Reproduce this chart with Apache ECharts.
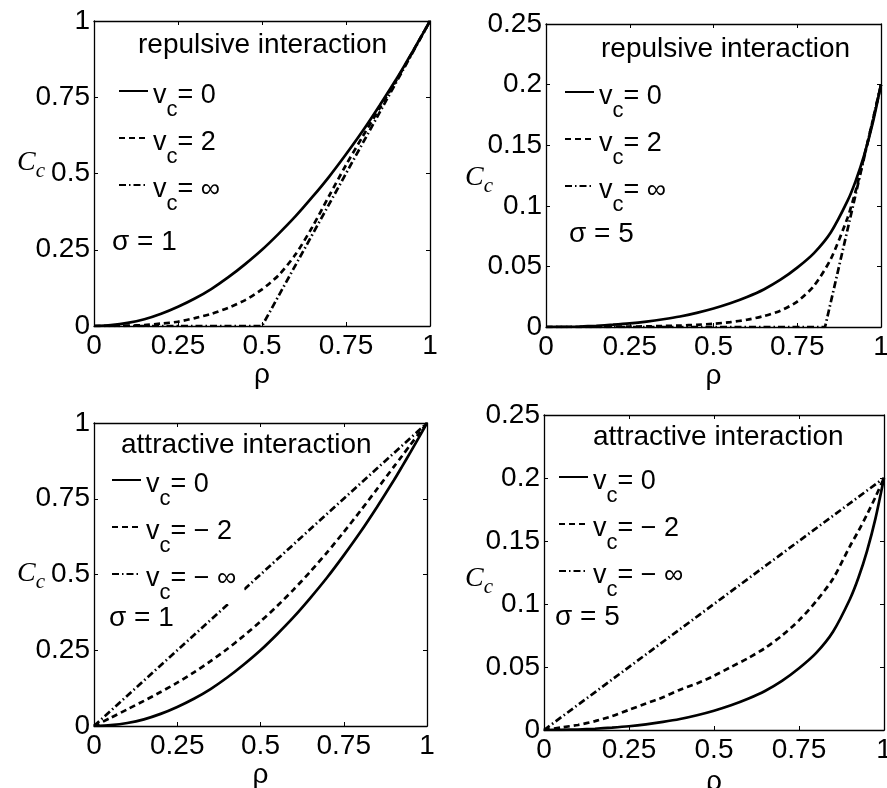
<!DOCTYPE html>
<html>
<head>
<meta charset="utf-8">
<script src="https://cdn.jsdelivr.net/npm/echarts@6/dist/echarts.min.js"></script>
<style>
  html, body { margin: 0; padding: 0; background: #fff; }
  #chart { width: 887px; height: 788px; }
</style>
</head>
<body>
<div id="chart"></div>
<script>
// rho sampling used for the smooth curves (finer near rho = 1 where the curves steepen)
const rho = [0, 0.05, 0.1, 0.15, 0.2, 0.25, 0.3, 0.35, 0.4, 0.45, 0.5, 0.55, 0.6, 0.65, 0.7, 0.75, 0.8, 0.85, 0.9, 0.925, 0.95, 0.975, 1];

// sigma = 1  (v_c = 0 is the same curve in both left panels)
const s1Zero = [0, 0.003, 0.01, 0.022, 0.04, 0.063, 0.09, 0.122, 0.16, 0.203, 0.25, 0.303, 0.36, 0.423, 0.49, 0.563, 0.64, 0.723, 0.81, 0.856, 0.903, 0.951, 1];
const s1Rep2 = [0, 0, 0.001, 0.003, 0.008, 0.014, 0.026, 0.04, 0.06, 0.085, 0.12, 0.167, 0.235, 0.325, 0.427, 0.528, 0.622, 0.714, 0.806, 0.853, 0.902, 0.951, 1];
const s1Att2 = [0, 0.027, 0.055, 0.083, 0.112, 0.143, 0.177, 0.214, 0.254, 0.298, 0.345, 0.396, 0.451, 0.51, 0.573, 0.64, 0.71, 0.782, 0.855, 0.891, 0.928, 0.964, 1];

// sigma = 5
const s5Zero = [0, 0.0001, 0.0004, 0.001, 0.0019, 0.003, 0.0045, 0.0064, 0.0087, 0.0117, 0.0153, 0.0196, 0.0248, 0.031, 0.039, 0.049, 0.061, 0.078, 0.104, 0.121, 0.142, 0.168, 0.2];
const s5Rep2 = [0, 0, 0, 0.0001, 0.0002, 0.0003, 0.0005, 0.0008, 0.0012, 0.0018, 0.0027, 0.004, 0.006, 0.009, 0.0135, 0.021, 0.034, 0.056, 0.09, 0.113, 0.141, 0.17, 0.2];
const s5Att2 = [0, 0.002, 0.004, 0.007, 0.011, 0.016, 0.021, 0.026, 0.032, 0.037, 0.043, 0.05, 0.057, 0.065, 0.075, 0.087, 0.102, 0.12, 0.146, 0.158, 0.171, 0.185, 0.2];

// v_c = +-infinity limits (straight pieces)
const s1RepInfRho = [0, 0.5, 1];
const s1RepInf = [0, 0, 1];
const s5RepInfRho = [0, 0.833, 1];
const s5RepInf = [0, 0, 0.2];
const attInfRho = [0, 1];
const s1AttInf = [0, 1];
const s5AttInf = [0, 0.2];

// axis ranges
const xTickStep = 0.25;
const yMaxS1 = 1, yStepS1 = 0.25;
const yMaxS5 = 0.25, yStepS5 = 0.05;

const FONT = "'Liberation Sans', Arial, sans-serif";
const SERIF = "'Liberation Serif', 'DejaVu Serif', serif";

const pairs = (xs, ys) => xs.map((x, i) => [x, ys[i]]);

// panel layout
const panels = [
  { grid: { left: 94, top: 21, width: 336, height: 305 }, yMax: yMaxS1, yStep: yStepS1, rhoGap: 30, ccGap: 49, ccPad: [0, 0, 20, 0],
    title: "repulsive interaction", titlePos: [138, 31], sigma: "σ = 1", sigmaPos: [112, 228], legendPos: [118, 76] },
  { grid: { left: 546, top: 24, width: 335, height: 303 }, yMax: yMaxS5, yStep: yStepS5, rhoGap: 32, ccGap: 53, ccPad: [6, 0, 0, 0],
    title: "repulsive interaction", titlePos: [601, 35], sigma: "σ = 5", sigmaPos: [569, 220], legendPos: [564, 77] },
  { grid: { left: 94, top: 423, width: 333, height: 303 }, yMax: yMaxS1, yStep: yStepS1, rhoGap: 28, ccGap: 49, ccPad: [0, 0, 0, 0],
    title: "attractive interaction", titlePos: [121, 431], sigma: "σ = 1", sigmaPos: [109, 604], legendPos: [111, 465] },
  { grid: { left: 544, top: 415, width: 340, height: 315 }, yMax: yMaxS5, yStep: yStepS5, rhoGap: 38, ccGap: 51, ccPad: [15, 0, 0, 0],
    title: "attractive interaction", titlePos: [593, 423], sigma: "σ = 5", sigmaPos: [555, 603], legendPos: [558, 462] }
];

// series per panel: [name, legend label, data, dash type]
const curves = [
  [["r1_0", "= 0", pairs(rho, s1Zero), "solid"],
   ["r1_2", "= 2", pairs(rho, s1Rep2), [6, 4]],
   ["r1_inf", "= ∞", pairs(s1RepInfRho, s1RepInf), [7, 3, 1.5, 3]]],
  [["r5_0", "= 0", pairs(rho, s5Zero), "solid"],
   ["r5_2", "= 2", pairs(rho, s5Rep2), [6, 4]],
   ["r5_inf", "= ∞", pairs(s5RepInfRho, s5RepInf), [7, 3, 1.5, 3]]],
  [["a1_0", "= 0", pairs(rho, s1Zero), "solid"],
   ["a1_2", "= − 2", pairs(rho, s1Att2), [6, 4]],
   ["a1_inf", "= − ∞", pairs(attInfRho, s1AttInf), [7, 3, 1.5, 3]]],
  [["a5_0", "= 0", pairs(rho, s5Zero), "solid"],
   ["a5_2", "= − 2", pairs(rho, s5Att2), [6, 4]],
   ["a5_inf", "= − ∞", pairs(attInfRho, s5AttInf), [7, 3, 1.5, 3]]]
];

const labelOf = {};
curves.forEach(list => list.forEach(c => { labelOf[c[0]] = c[1]; }));

const axisLine = { show: true, onZero: false, lineStyle: { color: "#000", width: 1.3 } };
const axisTick = { show: true, inside: true, length: 4, lineStyle: { color: "#000", width: 1 } };
const tickLabel = { color: "#000", fontSize: 28, fontFamily: FONT };

const grids = [], xAxes = [], yAxes = [], series = [], titles = [], legends = [];

panels.forEach((p, i) => {
  grids.push(Object.assign({ outerBoundsMode: "none", containLabel: false }, p.grid));

  xAxes.push({
    type: "value", gridIndex: i, min: 0, max: 1, interval: xTickStep, position: "bottom",
    axisLine, axisTick, splitLine: { show: false },
    axisLabel: Object.assign({ margin: 6 }, tickLabel),
    name: "ρ", nameLocation: "middle", nameGap: p.rhoGap,
    nameTextStyle: { color: "#000", fontSize: 28, fontFamily: FONT }
  });
  xAxes.push({
    type: "value", gridIndex: i, min: 0, max: 1, interval: xTickStep, position: "top",
    axisLine, axisTick, splitLine: { show: false }, axisLabel: { show: false }
  });

  yAxes.push({
    type: "value", gridIndex: i, min: 0, max: p.yMax, interval: p.yStep, position: "left",
    axisLine, axisTick, splitLine: { show: false },
    axisLabel: Object.assign({ margin: 4 }, tickLabel),
    name: "{C|C}{c|c}", nameLocation: "middle", nameRotate: 0, nameGap: p.ccGap, nameMoveOverlap: false,
    nameTextStyle: {
      padding: p.ccPad,
      rich: {
        C: { fontFamily: SERIF, fontStyle: "italic", fontSize: 28, color: "#000", lineHeight: 30, verticalAlign: "top" },
        c: { fontFamily: SERIF, fontStyle: "italic", fontSize: 21, color: "#000", lineHeight: 22, verticalAlign: "top", padding: [12, 0, 0, 0] }
      }
    }
  });
  yAxes.push({
    type: "value", gridIndex: i, min: 0, max: p.yMax, interval: p.yStep, position: "right",
    axisLine, axisTick, splitLine: { show: false }, axisLabel: { show: false }
  });

  curves[i].forEach(c => {
    series.push({
      name: c[0], type: "line", xAxisIndex: 2 * i, yAxisIndex: 2 * i,
      data: c[2], symbol: "none", showSymbol: false,
      smooth: c[2].length > 3 ? 0.25 : false,
      lineStyle: { color: "#000", width: 2.7, type: c[3] },
      itemStyle: { color: "#000" },
      z: 2
    });
  });

  titles.push({
    text: p.title, left: p.titlePos[0], top: p.titlePos[1], padding: 0,
    textStyle: { color: "#000", fontSize: 28, fontWeight: "normal", fontFamily: FONT }
  });
  titles.push({
    text: p.sigma, left: p.sigmaPos[0], top: p.sigmaPos[1], padding: 0,
    textStyle: { color: "#000", fontSize: 28, fontWeight: "normal", fontFamily: FONT }
  });

  legends.push({
    data: curves[i].map(c => c[0]),
    orient: "vertical", left: p.legendPos[0], top: p.legendPos[1],
    padding: [0, 8, 0, 0], itemGap: 2, itemWidth: 29, itemHeight: 14,
    backgroundColor: "#fff", selectedMode: false,
    itemStyle: { opacity: 0, borderWidth: 0 },
    formatter: name => "{v|v}{s|c}{v|" + labelOf[name] + "}",
    textStyle: {
      color: "#000", fontFamily: FONT,
      rich: {
        v: { fontSize: 27, fontFamily: FONT, color: "#000", lineHeight: 30, verticalAlign: "top", padding: [6, 0, 0, 0] },
        s: { fontSize: 22, fontFamily: FONT, color: "#000", lineHeight: 24, verticalAlign: "top", padding: [23, 0, 0, 0] }
      }
    }
  });
});

const chart = echarts.init(document.getElementById("chart"), null, { renderer: "canvas" });
chart.setOption({
  animation: false,
  backgroundColor: "#fff",
  title: titles,
  legend: legends,
  grid: grids,
  xAxis: xAxes,
  yAxis: yAxes,
  series: series
});
</script>
</body>
</html>
